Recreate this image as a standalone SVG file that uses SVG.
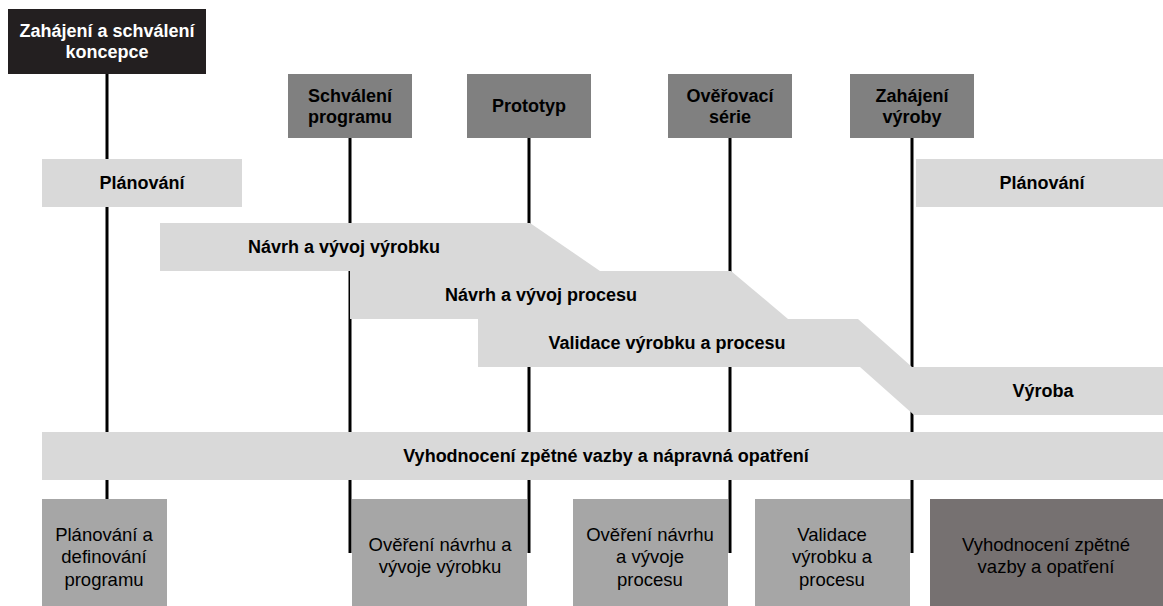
<svg xmlns="http://www.w3.org/2000/svg" width="1163" height="606" viewBox="0 0 1163 606">
<style>
text{font-family:"Liberation Sans",Arial,sans-serif;text-anchor:middle}
.b{font-weight:bold;font-size:18px;fill:#000}
.w{fill:#fff}
.r{font-size:18.5px;fill:#000}
.ms{fill:#808080}
.band{fill:#d9d9d9}
.bot{fill:#a6a6a6}
.ln{stroke:#000;stroke-width:3;fill:none}
</style>
<rect width="1163" height="606" fill="#fff"/>
<g id="connectors">
<line class="ln" x1="107" y1="74" x2="107" y2="499"/>
<line class="ln" x1="350" y1="138" x2="350" y2="553"/>
<line class="ln" x1="529" y1="138" x2="529" y2="553"/>
<line class="ln" x1="730" y1="138" x2="730" y2="553"/>
<line class="ln" x1="912" y1="138" x2="912" y2="553"/>
</g>
<g id="m-koncepce"><rect x="8" y="9" width="198" height="65" fill="#231f20"/><text class="b w" x="107" y="37">Zahájení a schválení</text><text class="b w" x="107" y="58">koncepce</text></g>
<g id="m-program"><rect class="ms" x="288" y="74" width="124" height="64"/><text class="b" x="350" y="102">Schválení</text><text class="b" x="350" y="123">programu</text></g>
<g id="m-prototyp"><rect class="ms" x="467" y="74" width="124" height="64"/><text class="b" x="529" y="112">Prototyp</text></g>
<g id="m-serie"><rect class="ms" x="668" y="74" width="124" height="64"/><text class="b" x="730" y="102">Ověřovací</text><text class="b" x="730" y="123">série</text></g>
<g id="m-vyroba"><rect class="ms" x="850" y="74" width="124" height="64"/><text class="b" x="912" y="102">Zahájení</text><text class="b" x="912" y="123">výroby</text></g>
<g id="planovani-1"><rect class="band" x="42" y="159" width="200" height="48"/><text class="b" x="142" y="189">Plánování</text></g>
<g id="planovani-2"><rect class="band" x="916" y="159" width="247" height="48"/><text class="b" x="1042" y="189">Plánování</text></g>
<g id="navrh-vyrobku"><polygon class="band" points="160,223 530,223 600,271 160,271"/><text class="b" x="344" y="253">Návrh a vývoj výrobku</text></g>
<g id="navrh-procesu"><polygon class="band" points="350,271 731,271 788,319 350,319"/><text class="b" x="541" y="301">Návrh a vývoj procesu</text></g>
<g id="validace"><polygon class="band" points="478,319 858,319 912,367 478,367"/><text class="b" x="667" y="349">Validace výrobku a procesu</text></g>
<g id="vyroba"><polygon class="band" points="860,367 1163,367 1163,415 914,415"/><text class="b" x="1043" y="397">Výroba</text></g>
<g id="vyhodnoceni"><rect class="band" x="42" y="432" width="1121" height="48"/><text class="b" x="606" y="462">Vyhodnocení zpětné vazby a nápravná opatření</text></g>
<g id="o-planovani"><rect class="bot" x="42" y="499" width="125" height="107"/><text class="r" x="104" y="541">Plánování a</text><text class="r" x="104" y="563">definování</text><text class="r" x="104" y="586">programu</text></g>
<g id="o-vyrobku"><rect class="bot" x="352" y="499" width="175" height="107"/><text class="r" x="440" y="551">Ověření návrhu a</text><text class="r" x="440" y="573">vývoje výrobku</text></g>
<g id="o-procesu"><rect class="bot" x="573" y="499" width="155" height="107"/><text class="r" x="650" y="541">Ověření návrhu</text><text class="r" x="650" y="563">a vývoje</text><text class="r" x="650" y="586">procesu</text></g>
<g id="o-validace"><rect class="bot" x="755" y="499" width="155" height="107"/><text class="r" x="832" y="541">Validace</text><text class="r" x="832" y="563">výrobku a</text><text class="r" x="832" y="586">procesu</text></g>
<g id="o-vyhodnoceni"><rect x="930" y="499" width="233" height="107" fill="#767171"/><text class="r" x="1046" y="551">Vyhodnocení zpětné</text><text class="r" x="1046" y="573">vazby a opatření</text></g>
</svg>
